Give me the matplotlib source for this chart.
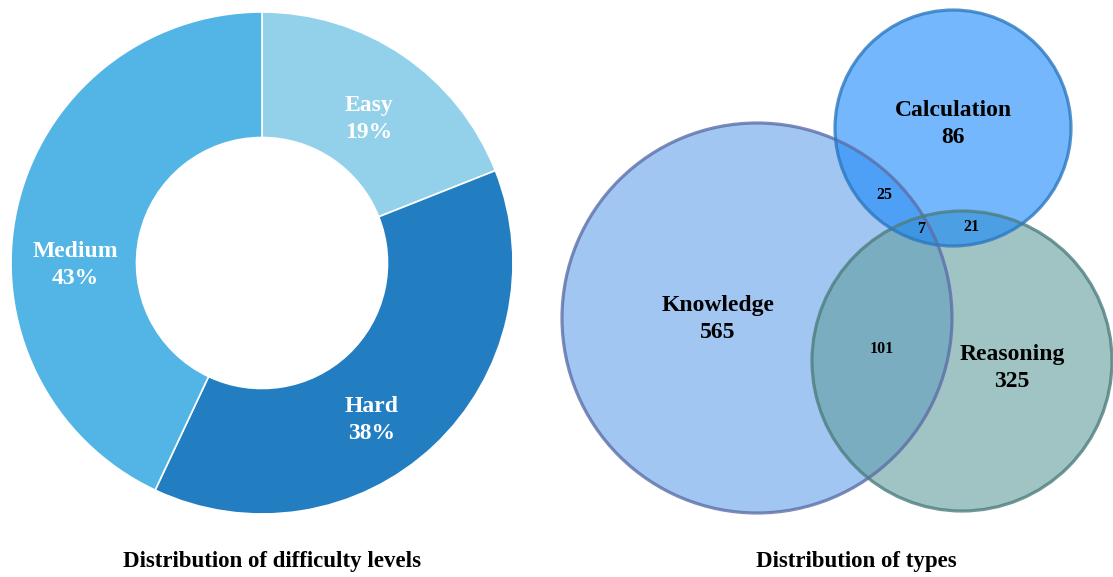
import matplotlib.pyplot as plt
from matplotlib.patches import Circle

# difficulty levels (donut)
levels = ['Easy', 'Hard', 'Medium']
level_share = [19, 38, 43]
level_colors = ['#93D1EA', '#237DC1', '#52B5E5']

# question types (venn)
types = ['Knowledge', 'Calculation', 'Reasoning']
type_only = [565, 86, 325]
overlap_names = ['K&C', 'K&C&R', 'C&R', 'K&R']
overlap_counts = [25, 7, 21, 101]

W, H = 1113, 577
plt.rcParams['font.family'] = ['Liberation Serif', 'DejaVu Serif']
fig = plt.figure(figsize=(W / 100, H / 100), dpi=100)


def px_axes(x0, y0, x1, y1):
    # axes placed with pixel box from the top-left corner
    return fig.add_axes([x0 / W, 1 - y1 / H, (x1 - x0) / W, (y1 - y0) / H])


# ---- donut ----
ax = px_axes(11, 12, 513, 514)
ax.pie(level_share, colors=level_colors, startangle=90, counterclock=False,
       radius=1, wedgeprops=dict(width=0.5, edgecolor='white', linewidth=1.2))
ax.set_xlim(-1, 1)
ax.set_ylim(-1, 1)
ax.axis('off')

level_text_pos = [(0.426, 0.574), (0.438, -0.625), (-0.745, -0.008)]
for name, share, (x, y) in zip(levels, level_share, level_text_pos):
    ax.text(x, y, f'{name}\n{share}%', ha='center', va='center', color='white',
            fontsize=17, fontweight='bold', linespacing=1.4)

# ---- venn ----
vx = px_axes(540, 0, 1113, 530)
vx.set_xlim(540, 1113)
vx.set_ylim(530, 0)
vx.axis('off')

circle_layout = [(757, 318, 195), (953, 128, 118), (962, 361, 150)]
circle_fill = ['#62A0EA', '#1787FA', '#619D9D']
circle_edge = ['#5C6FA8', '#2C78C0', '#4E7E7E']
draw_order = [0, 2, 1]
for i in draw_order:
    cx, cy, r = circle_layout[i]
    vx.add_patch(Circle((cx, cy), r, facecolor=circle_fill[i], alpha=0.6,
                        edgecolor='none'))
for i in draw_order:
    cx, cy, r = circle_layout[i]
    vx.add_patch(Circle((cx, cy), r, facecolor='none', edgecolor=circle_edge[i],
                        linewidth=2.3, alpha=0.8))

type_text_pos = [(718, 319), (953, 124), (1012, 368)]
for name, n, (x, y) in zip(types, type_only, type_text_pos):
    vx.text(x, y, f'{name}\n{n}', ha='center', va='center', color='black',
            fontsize=17, fontweight='bold', linespacing=1.4)

overlap_pos = [(884, 195), (921, 229), (971, 227), (882, 349)]
for n, (x, y) in zip(overlap_counts, overlap_pos):
    vx.text(x, y, str(n), ha='center', va='center', color='black',
            fontsize=11.5, fontweight='bold')

fig.text(272 / W, 1 - 561 / H, 'Distribution of difficulty levels',
         ha='center', va='center', fontsize=16.5, fontweight='bold')
fig.text(856 / W, 1 - 561 / H, 'Distribution of types',
         ha='center', va='center', fontsize=16.5, fontweight='bold')

fig.savefig('out.png', dpi=100)
